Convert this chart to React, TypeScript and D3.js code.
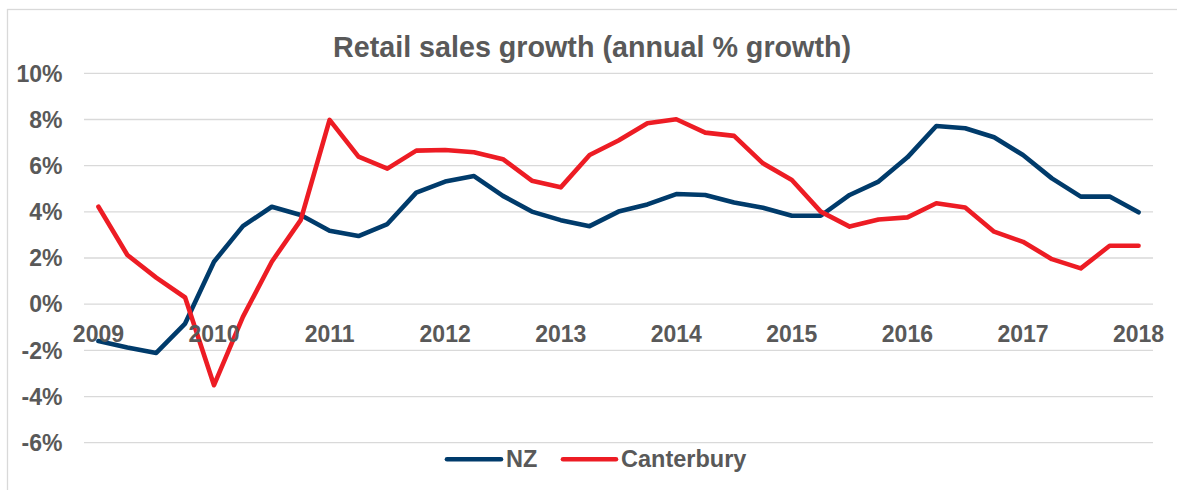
import React from "react";
import * as d3 from "d3";

const quarters: string[] = [
  "2009Q1","2009Q2","2009Q3","2009Q4",
  "2010Q1","2010Q2","2010Q3","2010Q4",
  "2011Q1","2011Q2","2011Q3","2011Q4",
  "2012Q1","2012Q2","2012Q3","2012Q4",
  "2013Q1","2013Q2","2013Q3","2013Q4",
  "2014Q1","2014Q2","2014Q3","2014Q4",
  "2015Q1","2015Q2","2015Q3","2015Q4",
  "2016Q1","2016Q2","2016Q3","2016Q4",
  "2017Q1","2017Q2","2017Q3","2017Q4",
  "2018Q1",
];

const nzValues: number[] = [
  -1.6, -1.88, -2.11, -0.84,
  1.84, 3.38, 4.22, 3.86,
  3.18, 2.95, 3.47, 4.83,
  5.31, 5.55, 4.69, 4.01,
  3.64, 3.38, 4.01, 4.32,
  4.77, 4.73, 4.4, 4.18,
  3.83, 3.83, 4.73, 5.31,
  6.36, 7.72, 7.62, 7.23,
  6.46, 5.45, 4.66, 4.66,
  3.98,
];

const canterburyValues: number[] = [
  4.22, 2.13, 1.15, 0.29,
  -3.51, -0.55, 1.84, 3.64,
  7.98, 6.39, 5.87, 6.65,
  6.68, 6.58, 6.28, 5.35,
  5.06, 6.46, 7.09, 7.84,
  8.01, 7.43, 7.29, 6.1,
  5.38, 4.01, 3.36, 3.67,
  3.76, 4.37, 4.19, 3.14,
  2.7, 1.95, 1.55, 2.53,
  2.53,
];

const yTicks: number[] = [10, 8, 6, 4, 2, 0, -2, -4, -6];
const yearLabels: string[] = ["2009","2010","2011","2012","2013","2014","2015","2016","2017","2018"];

const seriesNames = ["NZ", "Canterbury"];
const seriesColors = ["#003B6B", "#ED1C24"];

const W = 1177;
const H = 490;
const FONT = "'Liberation Sans', Arial, sans-serif";
const TEXT = "#595959";

export default function App() {
  const x = d3.scalePoint<string>().domain(quarters).range([84, 1153]).padding(0.5);
  const y = d3.scaleLinear().domain([-6, 10]).range([442.7, 73.3]);

  const line = d3
    .line<number>()
    .x((_, i) => x(quarters[i]) as number)
    .y((v) => y(v));

  const series = [nzValues, canterburyValues];

  return (
    <svg
      width={W}
      height={H}
      style={{ position: "absolute", left: 0, top: 0, background: "#fff" }}
      fontFamily={FONT}
    >
      <rect x={7.5} y={9.5} width={W + 10} height={H + 10} fill="#fff" stroke="#D9D9D9" strokeWidth={1.3} />
      <text x={592} y={56.5} textAnchor="middle" fontSize={28.7} fontWeight="bold" fill={TEXT}>
        Retail sales growth (annual % growth)
      </text>
      {yTicks.map((t) => (
        <g key={t}>
          <line x1={84} x2={1153} y1={y(t)} y2={y(t)} stroke="#D9D9D9" strokeWidth={1.3} />
          <text x={62.5} y={y(t) + 8.3} textAnchor="end" fontSize={23} fontWeight="bold" fill={TEXT}>
            {t}%
          </text>
        </g>
      ))}
      {series.map((s, i) => (
        <path
          key={seriesNames[i]}
          d={line(s) || ""}
          fill="none"
          stroke={seriesColors[i]}
          strokeWidth={4.6}
          strokeLinejoin="round"
          strokeLinecap="round"
        />
      ))}
      {yearLabels.map((yr, i) => (
        <text
          key={yr}
          x={x(quarters[i * 4]) as number}
          y={341.5}
          textAnchor="middle"
          fontSize={23}
          fontWeight="bold"
          fill={TEXT}
        >
          {yr}
        </text>
      ))}
      <g>
        <line x1={447} x2={501} y1={459.3} y2={459.3} stroke={seriesColors[0]} strokeWidth={4.6} strokeLinecap="round" />
        <text x={506} y={466.7} fontSize={23.5} fontWeight="bold" fill={TEXT}>
          {seriesNames[0]}
        </text>
        <line x1={563} x2={616} y1={459.3} y2={459.3} stroke={seriesColors[1]} strokeWidth={4.6} strokeLinecap="round" />
        <text x={621} y={466.7} fontSize={23.5} fontWeight="bold" fill={TEXT}>
          {seriesNames[1]}
        </text>
      </g>
    </svg>
  );
}
